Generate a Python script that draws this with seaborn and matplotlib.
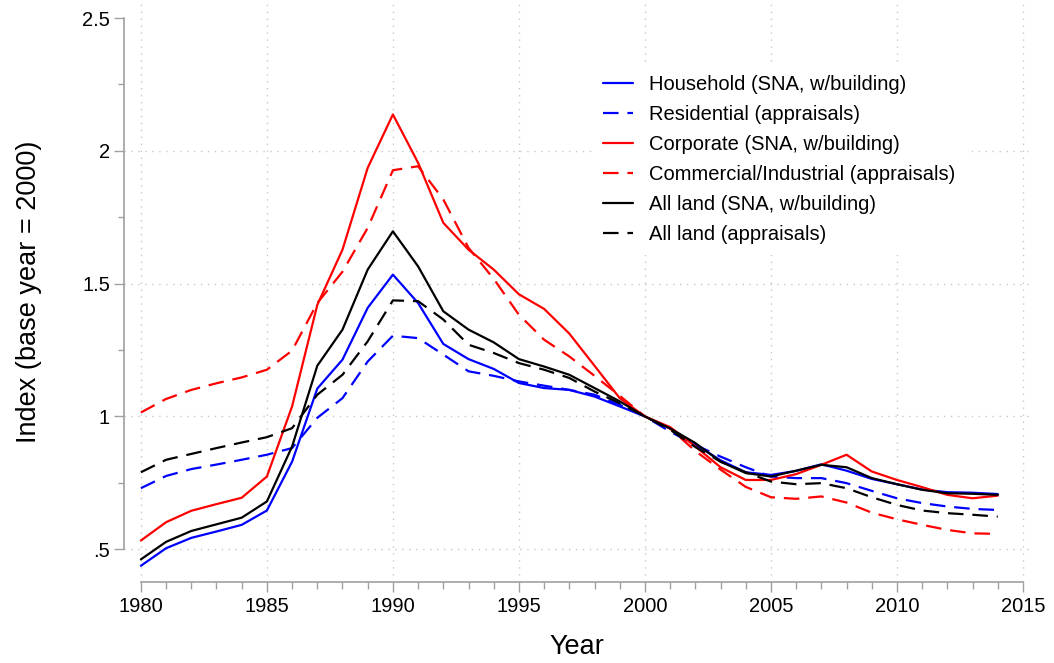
import numpy as np
import pandas as pd
import matplotlib
matplotlib.use("Agg")
import matplotlib.pyplot as plt
import seaborn as sns

sns.set_style("white")
plt.rcParams['font.family'] = ['Liberation Sans', 'DejaVu Sans']
plt.rcParams['text.color'] = 'black'
plt.rcParams['axes.labelcolor'] = 'black'

# 데이터
years = list(range(1980, 2015))

household_sna = [0.438, 0.504, 0.543, 0.567, 0.592, 0.646, 0.830, 1.105, 1.214, 1.409,
                 1.534, 1.427, 1.273, 1.216, 1.179, 1.126, 1.107, 1.100, 1.075, 1.038,
                 1.000, 0.955, 0.895, 0.835, 0.790, 0.780, 0.795, 0.820, 0.796, 0.765,
                 0.745, 0.725, 0.715, 0.713, 0.708]
residential_appr = [0.730, 0.776, 0.802, 0.819, 0.837, 0.856, 0.881, 0.995, 1.069, 1.207,
                    1.304, 1.295, 1.233, 1.170, 1.153, 1.132, 1.116, 1.100, 1.082, 1.044,
                    1.000, 0.943, 0.893, 0.849, 0.809, 0.774, 0.768, 0.768, 0.749, 0.720,
                    0.692, 0.674, 0.661, 0.652, 0.648]
corporate_sna = [0.533, 0.602, 0.645, 0.670, 0.694, 0.774, 1.038, 1.420, 1.628, 1.936,
                 2.137, 1.955, 1.729, 1.628, 1.553, 1.460, 1.405, 1.312, 1.191, 1.069,
                 1.000, 0.960, 0.887, 0.809, 0.761, 0.761, 0.783, 0.818, 0.856, 0.793,
                 0.761, 0.734, 0.705, 0.692, 0.702]
commercial_appr = [1.015, 1.066, 1.100, 1.125, 1.147, 1.176, 1.248, 1.427, 1.545, 1.710,
                   1.927, 1.942, 1.817, 1.635, 1.518, 1.383, 1.289, 1.226, 1.153, 1.078,
                   1.000, 0.955, 0.870, 0.800, 0.735, 0.696, 0.690, 0.699, 0.676, 0.638,
                   0.613, 0.592, 0.573, 0.560, 0.558]
all_sna = [0.462, 0.528, 0.569, 0.594, 0.619, 0.680, 0.887, 1.191, 1.327, 1.553,
           1.697, 1.565, 1.396, 1.327, 1.279, 1.216, 1.188, 1.157, 1.107, 1.057,
           1.000, 0.955, 0.900, 0.830, 0.787, 0.774, 0.796, 0.818, 0.809, 0.768,
           0.745, 0.724, 0.711, 0.709, 0.705]
all_appr = [0.790, 0.837, 0.859, 0.881, 0.902, 0.922, 0.956, 1.082, 1.157, 1.283,
            1.437, 1.434, 1.365, 1.270, 1.239, 1.201, 1.176, 1.145, 1.094, 1.050,
            1.000, 0.950, 0.885, 0.830, 0.790, 0.755, 0.745, 0.749, 0.730, 0.696,
            0.667, 0.646, 0.636, 0.630, 0.623]

labels = ["Household (SNA, w/building)", "Residential (appraisals)",
          "Corporate (SNA, w/building)", "Commercial/Industrial (appraisals)",
          "All land (SNA, w/building)", "All land (appraisals)"]
series = [household_sna, residential_appr, corporate_sna,
          commercial_appr, all_sna, all_appr]
colors = ["#0000ff", "#0000ff", "#ff0000", "#ff0000", "#000000", "#000000"]
dashed = [False, True, False, True, False, True]

df = pd.DataFrame({"Year": years})
for lab, vals in zip(labels, series):
    df[lab] = vals

# 그래프
fig = plt.figure(figsize=(10.54, 6.63), dpi=100)
ax = fig.add_axes([124 / 1054, (663 - 581.7) / 663, 906 / 1054, 579.7 / 663])

grid_kw = dict(color="#c8c8c8", lw=1.0, ls=(0, (1, 4)), zorder=0)
for yv in [0.5, 1, 1.5, 2]:
    ax.axhline(yv, **grid_kw)
for xv in range(1980, 2016, 5):
    ax.axvline(xv, **grid_kw)

for lab, c, d in zip(labels, colors, dashed):
    ls = (0, (7, 4)) if d else "-"
    sns.lineplot(data=df, x="Year", y=lab, color=c, linestyle=ls, lw=1.6,
                 label=lab, ax=ax, zorder=3)

ax.set_xlim(1979.33, 2015.28)
ax.set_ylim(0.378, 2.5 + 16 / 265.3)

ax.set_xticks(range(1980, 2016, 5))
ax.set_xticks(range(1980, 2016), minor=True)
ax.set_yticks([0.5, 1, 1.5, 2, 2.5])
ax.set_yticklabels([".5", "1", "1.5", "2", "2.5"])
ax.set_yticks(np.arange(0.5, 2.51, 0.25), minor=True)

for s in ["top", "right"]:
    ax.spines[s].set_visible(False)
ax.spines["left"].set_bounds(0.5, 2.5)
ax.spines["bottom"].set_bounds(1980, 2015)
for s in ["left", "bottom"]:
    ax.spines[s].set_color("#a0a0a0")
    ax.spines[s].set_linewidth(1.2)

ax.tick_params(axis="both", which="both", direction="out", color="#a0a0a0",
               width=1.0, labelsize=14.5, labelcolor="black")
ax.tick_params(axis="x", which="major", length=7, pad=4)
ax.tick_params(axis="x", which="minor", length=5)
ax.tick_params(axis="y", which="major", length=7, pad=3)
ax.tick_params(axis="y", which="minor", length=4)
ax.tick_params(bottom=True, left=True, which="both")

ax.set_xlabel("Year", fontsize=19.5, labelpad=13)
ax.set_ylabel("Index (base year = 2000)", fontsize=19.5, labelpad=29)

leg = ax.legend(loc="upper left", bbox_to_anchor=(593 / 1054, 1 - 65 / 663),
                bbox_transform=fig.transFigure, fontsize=14.5, frameon=True,
                handlelength=1.5, handletextpad=0.8, labelspacing=0.55,
                borderpad=0.5, borderaxespad=0)
leg.get_frame().set_facecolor("white")
leg.get_frame().set_edgecolor("none")
leg.get_frame().set_alpha(1)

plt.savefig("out.png", dpi=100)
